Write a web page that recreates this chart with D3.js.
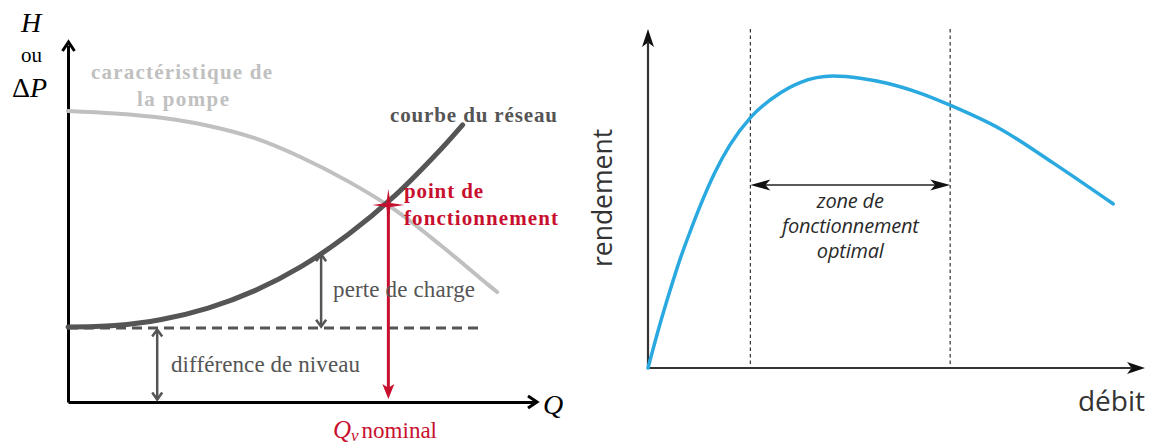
<!DOCTYPE html>
<html><head><meta charset="utf-8">
<script src="https://cdn.jsdelivr.net/npm/d3@7"></script>
<style>body{margin:0;background:#fff}svg{display:block}</style>
</head><body>
<svg id="c" width="1154" height="446"></svg>
<script>
// ---------- Left panel data (pump & network curves) ----------
const pumpQ = [0, 10, 20, 30, 40, 50, 60, 70, 80, 90, 91.9];
const pumpH = [81.5, 80.8, 79.6, 77.4, 73.9, 68.5, 61.8, 53.8, 43.7, 32.8, 30.8];
const networkQ = [0, 10, 20, 30, 40, 50, 60, 70, 80, 84.5];
const networkH = [21.0, 21.4, 23.1, 26.3, 31.2, 38.0, 46.9, 57.8, 71.0, 77.6];
const staticHead = 20.7;      // différence de niveau
const staticEndQ = 88.7;
const operatingQ = 68.6, operatingH = 55.2;
const lossQ = 54.2, lossTopH = 41.4;
const levelQ = 19.1;

// ---------- Right panel data (efficiency curve) ----------
const flow =       [0, 2.4, 4.4, 6.4, 8.5, 10.5, 13.5, 16.5, 20.7, 26.6, 30.6, 37.2, 42.7, 48.1, 54.7, 61.0, 70.8, 81.5, 93.6];
const efficiency = [0, 12.9, 22.7, 31.9, 40.3, 47.8, 57.8, 65.8, 74.0, 81.1, 84.2, 86.1, 85.5, 84.0, 81.1, 77.4, 70.6, 60.5, 48.4];
const zoneBounds = [20.6, 60.8];
const zoneArrowLevel = 54.0;
const zoneLabel = ["zone de", "fonctionnement", "optimal"];

const svg = d3.select("#c");
const RED = "#c8102e", DARK = "#555", LIGHT = "#c0c0c0", BLUE = "#2aa9e0";

function head(g, tx, ty, dir, len, hw, color, filled, sw) {
  const [dx, dy] = dir, px = -dy, py = dx;
  const bx = tx - dx * len, by = ty - dy * len;
  if (filled) {
    const ix = tx - dx * len * 0.75, iy = ty - dy * len * 0.75;
    g.append("path").attr("d", `M${tx},${ty}L${bx + px*hw},${by + py*hw}L${ix},${iy}L${bx - px*hw},${by - py*hw}Z`)
      .attr("fill", color);
  } else {
    g.append("path").attr("d", `M${bx + px*hw},${by + py*hw}L${tx},${ty}L${bx - px*hw},${by - py*hw}`)
      .attr("fill", "none").attr("stroke", color).attr("stroke-width", sw).attr("stroke-linejoin", "miter");
  }
}

// ================= LEFT =================
const xL = d3.scaleLinear().domain([0, 100]).range([68, 535]);
const yL = d3.scaleLinear().domain([0, 100]).range([402, 45]);
const gL = svg.append("g");

gL.append("g").attr("transform", `translate(0,${yL(0)})`)
  .call(d3.axisBottom(xL).tickValues([]).tickSizeOuter(0))
  .call(g => g.select(".domain").attr("stroke", "#000").attr("stroke-width", 3));
gL.append("g").attr("transform", `translate(${xL(0)},0)`)
  .call(d3.axisLeft(yL).tickValues([]).tickSizeOuter(0))
  .call(g => g.select(".domain").attr("stroke", "#000").attr("stroke-width", 3));
head(gL, xL(0) + 0.5, yL(100) - 3, [0, -1], 9, 6, "#000", false, 3);
head(gL, xL(100) + 2, yL(0), [1, 0], 9, 6, "#000", false, 3);

const line = d3.line().curve(d3.curveCatmullRom.alpha(0.5));

gL.append("path").attr("d", line(pumpQ.map((q, i) => [xL(q), yL(pumpH[i])])))
  .attr("fill", "none").attr("stroke", LIGHT).attr("stroke-width", 4).attr("stroke-linecap", "round");

gL.append("line").attr("x1", xL(0)).attr("x2", xL(staticEndQ))
  .attr("y1", yL(staticHead)).attr("y2", yL(staticHead))
  .attr("stroke", DARK).attr("stroke-width", 3).attr("stroke-dasharray", "10,6");

gL.append("path").attr("d", line(networkQ.map((q, i) => [xL(q), yL(networkH[i])])))
  .attr("fill", "none").attr("stroke", DARK).attr("stroke-width", 5).attr("stroke-linecap", "round");

function dbl(q, h0, h1) {
  const x = xL(q), y0 = yL(h0), y1 = yL(h1);
  gL.append("line").attr("x1", x).attr("x2", x).attr("y1", y0 - 1).attr("y2", y1 + 1)
    .attr("stroke", DARK).attr("stroke-width", 2.5);
  head(gL, x, y1, [0, -1], 7, 5, DARK, false, 2.5);
  head(gL, x, y0, [0, 1], 7, 5, DARK, false, 2.5);
}
dbl(lossQ, staticHead + 0.4, lossTopH);
dbl(levelQ, 0.7, staticHead - 0.4);

const ox = xL(operatingQ), oy = yL(operatingH);
gL.append("line").attr("x1", ox).attr("x2", ox).attr("y1", oy).attr("y2", yL(0) - 12)
  .attr("stroke", RED).attr("stroke-width", 3);
head(gL, ox, yL(0) - 3, [0, 1], 15, 6, RED, true);
const s = 16, t = 2;
gL.append("path").attr("d",
  `M${ox - s},${oy}L${ox - t},${oy - t}L${ox},${oy - s}L${ox + t},${oy - t}L${ox + s},${oy}L${ox + t},${oy + t}L${ox},${oy + s}L${ox - t},${oy + t}Z`)
  .attr("fill", RED);

const serif = "'Liberation Serif','Times New Roman',serif";
function txt(g, x, y, str, opts) {
  const el = g.append("text").attr("x", x).attr("y", y).text(str)
    .attr("font-family", opts.family || serif).attr("font-size", opts.size)
    .attr("fill", opts.color || "#000");
  if (opts.weight) el.attr("font-weight", opts.weight);
  if (opts.style) el.attr("font-style", opts.style);
  if (opts.anchor) el.attr("text-anchor", opts.anchor);
  if (opts.len) el.attr("textLength", opts.len).attr("lengthAdjust", "spacing");
  return el;
}
txt(gL, 21, 32, "H", {size: 28, style: "italic"});
txt(gL, 21, 62, "ou", {size: 21, len: 21});
const dp = gL.append("text").attr("x", 12).attr("y", 97).attr("font-family", serif).attr("font-size", 28);
dp.append("tspan").text("Δ");
dp.append("tspan").attr("font-style", "italic").text("P");
txt(gL, 543, 414, "Q", {size: 28, style: "italic"});

txt(gL, 91, 79, "caractéristique de", {size: 21, weight: "bold", color: LIGHT, len: 181});
txt(gL, 137, 106, "la pompe", {size: 21, weight: "bold", color: LIGHT, len: 92});
txt(gL, 390, 122, "courbe du réseau", {size: 21, weight: "bold", color: DARK, len: 167});
txt(gL, 404, 198, "point de", {size: 21, weight: "bold", color: RED, len: 79});
txt(gL, 404, 225, "fonctionnement", {size: 21, weight: "bold", color: RED, len: 154});
txt(gL, 333, 297, "perte de charge", {size: 23, color: DARK, len: 142});
txt(gL, 171, 372, "différence de niveau", {size: 23, color: DARK, len: 189});
const qv = gL.append("text").attr("x", 333).attr("y", 438).attr("font-family", serif).attr("fill", RED);
qv.append("tspan").attr("font-size", 25).attr("font-style", "italic").text("Q");
qv.append("tspan").attr("font-size", 17).attr("font-style", "italic").attr("dy", 3).text("v");
qv.append("tspan").attr("font-size", 23).attr("dy", -3).attr("dx", 3).text("nominal");

// ================= RIGHT =================
const xR = d3.scaleLinear().domain([0, 100]).range([648, 1145]);
const yR = d3.scaleLinear().domain([0, 100]).range([368, 29]);
const gR = svg.append("g");
const AX = "#333";

zoneBounds.forEach(b => {
  gR.append("line").attr("x1", xR(b)).attr("x2", xR(b)).attr("y1", yR(100)).attr("y2", yR(0))
    .attr("stroke", AX).attr("stroke-width", 1.2).attr("stroke-dasharray", "3.5,3");
});

gR.append("g").attr("transform", `translate(0,${yR(0)})`)
  .call(d3.axisBottom(xR).tickValues([]).tickSizeOuter(0))
  .call(g => g.select(".domain").attr("stroke", AX).attr("stroke-width", 2.2).attr("d", `M${xR(0)},0H${xR(100) - 14}`));
gR.append("g").attr("transform", `translate(${xR(0)},0)`)
  .call(d3.axisLeft(yR).tickValues([]).tickSizeOuter(0))
  .call(g => g.select(".domain").attr("stroke", AX).attr("stroke-width", 2.2).attr("d", `M0,${yR(0)}V${yR(100) + 14}`));
head(gR, xR(0), yR(100), [0, -1], 18, 6, "#111", true);
head(gR, xR(100), yR(0), [1, 0], 18, 6, "#111", true);

gR.append("path")
  .attr("d", d3.line().curve(d3.curveMonotoneX)(flow.map((f, i) => [xR(f), yR(efficiency[i])])))
  .attr("fill", "none").attr("stroke", BLUE).attr("stroke-width", 3.5).attr("stroke-linecap", "round");

const za = yR(zoneArrowLevel);
gR.append("line").attr("x1", xR(zoneBounds[0]) + 10).attr("x2", xR(zoneBounds[1]) - 10)
  .attr("y1", za).attr("y2", za).attr("stroke", "#222").attr("stroke-width", 1.5);
head(gR, xR(zoneBounds[0]), za, [-1, 0], 20, 5.5, "#111", true);
head(gR, xR(zoneBounds[1]), za, [1, 0], 20, 5.5, "#111", true);

const sans = "'Open Sans','Noto Sans',sans-serif";
const zx = (xR(zoneBounds[0]) + xR(zoneBounds[1])) / 2;
zoneLabel.forEach((l, i) => {
  gR.append("text").attr("x", zx).attr("y", 208 + i * 25).attr("text-anchor", "middle")
    .attr("font-family", sans).attr("font-style", "italic").attr("font-size", 20)
    .attr("letter-spacing", -0.2).attr("fill", "#2a2a2a").text(l);
});
gR.append("text").attr("transform", "translate(612,198) rotate(-90)").attr("text-anchor", "middle")
  .attr("font-family", sans).attr("font-size", 26.5).attr("fill", "#333").text("rendement");
gR.append("text").attr("x", 1145).attr("y", 411).attr("text-anchor", "end")
  .attr("font-family", sans).attr("font-size", 28).attr("fill", "#333").text("débit");
</script>
</body></html>
